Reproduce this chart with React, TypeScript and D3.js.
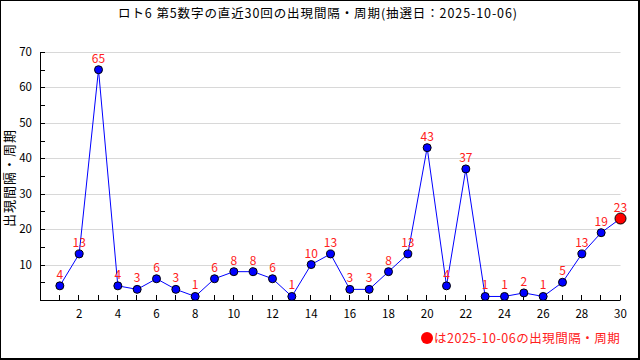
import React from "react";
import * as d3 from "d3";

const draws: number[] = Array.from({ length: 30 }, (_, i) => i + 1);
const intervals: number[] = [4, 13, 65, 4, 3, 6, 3, 1, 6, 8, 8, 6, 1, 10, 13, 3, 3, 8, 13, 43, 4, 37, 1, 1, 2, 1, 5, 13, 19, 23];
const yTicks: number[] = [10, 20, 30, 40, 50, 60, 70];
const yMinorTicks: number[] = [5, 15, 25, 35, 45, 55, 65];
const xLabelTicks: number[] = [2, 4, 6, 8, 10, 12, 14, 16, 18, 20, 22, 24, 26, 28, 30];
const titleText = "ロト6 第5数字の直近30回の出現間隔・周期(抽選日：2025-10-06)";
const yAxisTitle = "出現間隔・周期";
const legendText = "は2025-10-06の出現間隔・周期";

const W = 640;
const H = 360;
const FONT = "'Noto Sans CJK JP', 'DejaVu Sans', sans-serif";

export default function App() {
  const x = d3.scaleLinear().domain([0, 30]).range([40.5, 620.5]);
  const y = d3.scaleLinear().domain([0, 70]).range([300, 52]);
  const line = d3
    .line<number>()
    .x((_, i) => x(draws[i]))
    .y((d) => y(d));
  const left = 41;
  const right = 620.5;
  const bottom = 300;
  const n = intervals.length;

  return (
    <svg
      width={W}
      height={H}
      style={{ position: "absolute", left: 0, top: 0, display: "block" }}
      fontFamily={FONT}
    >
      <rect x={0} y={0} width={W} height={H} fill="#fff" />
      <rect x={0.5} y={0.5} width={W - 2} height={H - 2} fill="none" stroke="#000" strokeWidth={1} />
      <line x1={W - 1} y1={0} x2={W - 1} y2={H} stroke="#000" strokeWidth={2} />
      <line x1={0} y1={H - 1} x2={W} y2={H - 1} stroke="#000" strokeWidth={2} />

      <text x={318} y={18} textAnchor="middle" fontSize={12.5} letterSpacing={0.9} fill="#000">
        {titleText}
      </text>

      {yTicks.map((t) => (
        <line key={"g" + t} x1={left} x2={right} y1={Math.round(y(t)) + 0.5} y2={Math.round(y(t)) + 0.5} stroke="#d8d8d8" strokeWidth={1} />
      ))}

      <line x1={left - 0.5} x2={left - 0.5} y1={52} y2={bottom} stroke="#000" strokeWidth={1} />
      <line x1={left - 1} x2={right} y1={bottom + 0.5} y2={bottom + 0.5} stroke="#000" strokeWidth={1} />

      {yTicks.map((t) => (
        <g key={"yt" + t}>
          <line x1={left} x2={left + 4} y1={Math.round(y(t)) + 0.5} y2={Math.round(y(t)) + 0.5} stroke="#000" />
          <text x={32} y={y(t)} dy="0.35em" textAnchor="end" fontSize={11.5} fill="#000">
            {t}
          </text>
        </g>
      ))}
      {yMinorTicks.map((t) => (
        <line key={"ym" + t} x1={left} x2={left + 4} y1={Math.round(y(t)) + 0.5} y2={Math.round(y(t)) + 0.5} stroke="#000" />
      ))}

      {draws.map((d) => (
        <line key={"xt" + d} x1={Math.round(x(d)) - 0.5} x2={Math.round(x(d)) - 0.5} y1={bottom} y2={bottom - 5} stroke="#000" />
      ))}
      {xLabelTicks.map((d) => (
        <text key={"xl" + d} x={x(d)} y={318} textAnchor="middle" fontSize={11.5} fill="#000">
          {d}
        </text>
      ))}

      <text
        transform={`translate(14,178) rotate(-90)`}
        textAnchor="middle"
        fontSize={13}
        letterSpacing={1}
        fill="#000"
      >
        {yAxisTitle}
      </text>

      <path d={line(intervals) || ""} fill="none" stroke="#0000ff" strokeWidth={1} />

      {intervals.map((v, i) =>
        i === n - 1 ? null : (
          <circle key={"p" + i} cx={x(draws[i])} cy={y(v)} r={4} fill="#0000ff" stroke="#000" strokeWidth={1} />
        )
      )}
      <circle cx={x(draws[n - 1])} cy={y(intervals[n - 1])} r={5.5} fill="#ff0000" stroke="#000" strokeWidth={1} />

      {intervals.map((v, i) => (
        <text key={"lb" + i} x={x(draws[i])} y={y(v) - 7} textAnchor="middle" fontSize={12} fill="#ff2020">
          {v}
        </text>
      ))}

      <circle cx={427} cy={338} r={6} fill="#ff0000" />
      <text x={434} y={343} fontSize={12.5} letterSpacing={0.5} fill="#ff2020">
        {legendText}
      </text>
    </svg>
  );
}
